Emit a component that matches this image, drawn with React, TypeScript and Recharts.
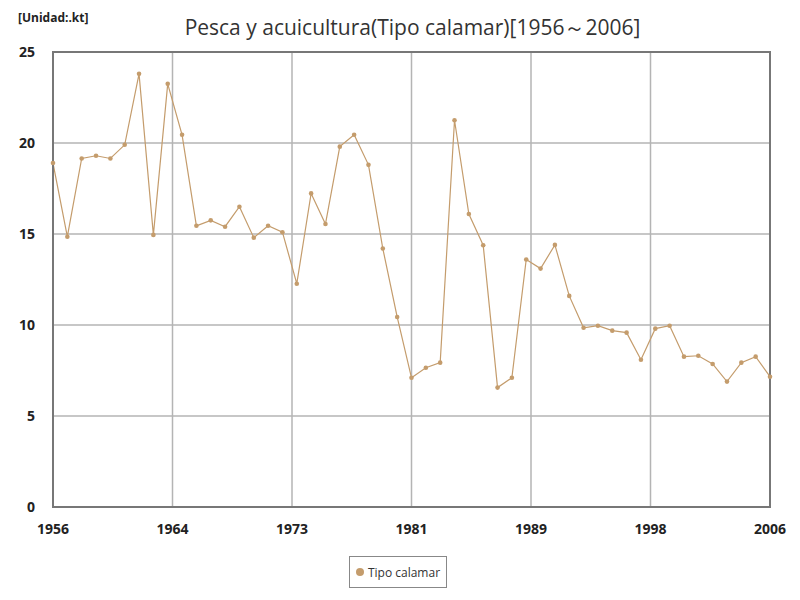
import {
  LineChart, Line, XAxis, YAxis, CartesianGrid, ReferenceArea, Legend,
} from 'recharts';

const YEARS = [
  1956, 1957, 1958, 1959, 1960, 1961, 1962, 1963, 1964, 1965,
  1966, 1967, 1968, 1969, 1970, 1971, 1972, 1973, 1974, 1975,
  1976, 1977, 1978, 1979, 1980, 1981, 1982, 1983, 1984, 1985,
  1986, 1987, 1988, 1989, 1990, 1991, 1992, 1993, 1994, 1995,
  1996, 1997, 1998, 1999, 2000, 2001, 2002, 2003, 2004, 2005, 2006,
];

// kt
const SQUID = [
  18.9, 14.85, 19.15, 19.3, 19.15, 19.9, 23.8, 14.95, 23.25, 20.45,
  15.45, 15.75, 15.4, 16.5, 14.8, 15.45, 15.1, 12.27, 17.23, 15.55,
  19.8, 20.45, 18.8, 14.2, 10.44, 7.1, 7.65, 7.93, 21.25, 16.1,
  14.38, 6.56, 7.1, 13.6, 13.1, 14.4, 11.6, 9.85, 9.96, 9.69,
  9.58, 8.09, 9.8, 9.96, 8.26, 8.31, 7.86, 6.89, 7.93, 8.26, 7.16,
];

const Y_TICKS = [0, 5, 10, 15, 20, 25];

const SERIES_NAME = 'Tipo calamar';
const LINE_COLOR = '#c49c6c';
const FONT = '"Open Sans", "Noto Sans", sans-serif';

export default function App() {
  const data = YEARS.map((year, i) => ({ year, value: SQUID[i] }));
  // axis is split into 6 equal parts, labels rounded to the year
  const xTicks = [0, 1, 2, 3, 4, 5, 6].map((k) => 1956 + (k * 50) / 6);

  return (
    <div style={{ position: 'relative', width: 800, height: 600, fontFamily: FONT, background: '#fff' }}>
      <style>{'body{margin:0}'}</style>
      <div style={{ position: 'absolute', left: 18, top: 9, fontSize: 12, fontWeight: 700, color: '#222' }}>
        [Unidad:.kt]
      </div>
      <div style={{ position: 'absolute', left: 0, width: 825, top: 13, textAlign: 'center', fontSize: 21, color: '#333' }}>
        Pesca y acuicultura(Tipo calamar)[1956～2006]
      </div>
      <LineChart width={800} height={600} data={data} margin={{ top: 52, right: 30, bottom: 53, left: 0 }}>
        <CartesianGrid stroke="#b4b4b4" strokeWidth={1.5} />
        <XAxis
          dataKey="year"
          type="number"
          domain={[1956, 2006]}
          ticks={xTicks}
          interval={0}
          tickFormatter={(v: number) => String(Math.round(v))}
          tick={{ fill: '#222', fontSize: 14, fontWeight: 700, fontFamily: FONT }}
          tickSize={0}
          tickMargin={17}
          height={40}
          axisLine={{ stroke: '#777', strokeWidth: 2 }}
        />
        <YAxis
          domain={[0, 25]}
          ticks={Y_TICKS}
          interval={0}
          tick={{ fill: '#222', fontSize: 14, fontWeight: 700, fontFamily: FONT }}
          tickSize={0}
          tickMargin={18}
          width={53}
          axisLine={{ stroke: '#777', strokeWidth: 2 }}
        />
        <ReferenceArea x1={1956} x2={2006} y1={0} y2={25} fill="none" stroke="#777" strokeWidth={2} ifOverflow="visible" />
        <Legend
          verticalAlign="bottom"
          content={() => (
            <div style={{
              position: 'absolute', left: 349, top: 556, width: 98, height: 32,
              border: '1.5px solid #888', boxSizing: 'border-box',
              display: 'flex', alignItems: 'center', justifyContent: 'center',
              fontSize: 12, color: '#333', fontFamily: FONT,
            }}>
              <span style={{ width: 8, height: 8, borderRadius: 4, background: LINE_COLOR, marginRight: 4 }} />
              {SERIES_NAME}
            </div>
          )}
          wrapperStyle={{ position: 'absolute', left: 0, top: 0, width: 800, height: 0 }}
        />
        <Line
          type="linear"
          dataKey="value"
          name={SERIES_NAME}
          stroke={LINE_COLOR}
          strokeWidth={1.2}
          dot={{ r: 2.3, fill: LINE_COLOR, stroke: 'none' }}
          activeDot={false}
          isAnimationActive={false}
        />
      </LineChart>
    </div>
  );
}
